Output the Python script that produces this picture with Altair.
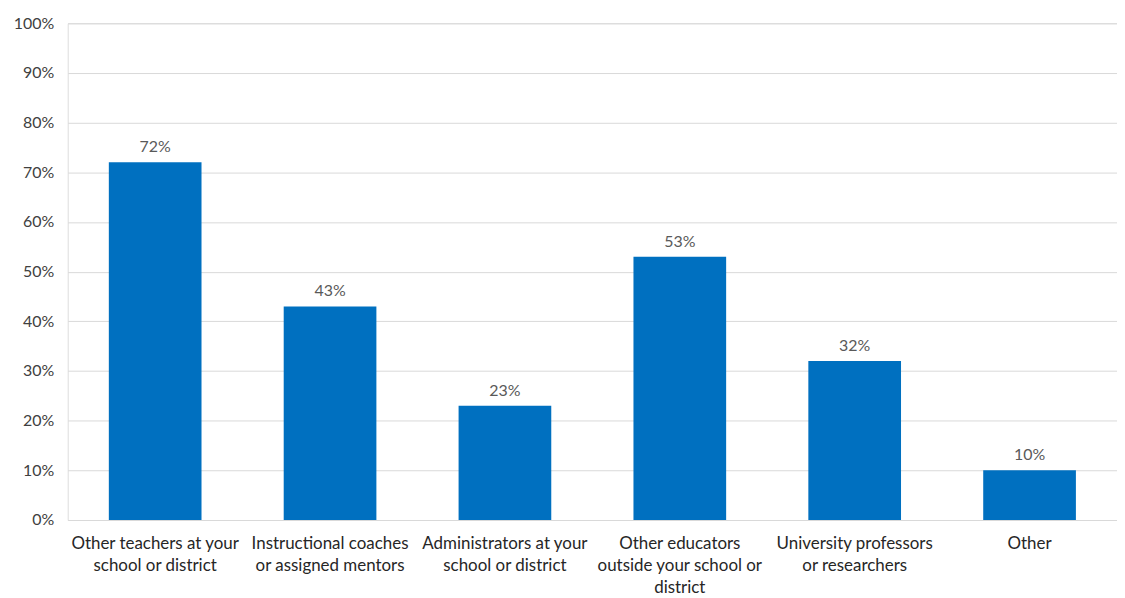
import altair as alt
import pandas as pd

categories = [
    "Other teachers at your|school or district",
    "Instructional coaches|or assigned mentors",
    "Administrators at your|school or district",
    "Other educators|outside your school or|district",
    "University professors|or researchers",
    "Other",
]
values = [0.72, 0.43, 0.23, 0.53, 0.32, 0.10]

df = pd.DataFrame({"category": categories, "value": values})

FONT = "Lato"

x = alt.X(
    "category:N",
    sort=categories,
    title=None,
    scale=alt.Scale(paddingInner=0.47, paddingOuter=0.235),
    axis=alt.Axis(
        labelExpr="split(datum.label, '|')",
        labelAngle=0,
        labelFontSize=17,
        labelLineHeight=22,
        labelColor="#262626",
        labelFont=FONT,
        labelPadding=16,
        ticks=False,
        domain=False,
        grid=False,
        labelLimit=240,
    ),
)
y = alt.Y(
    "value:Q",
    title=None,
    scale=alt.Scale(domain=[0, 1]),
    axis=alt.Axis(
        format=".0%",
        values=[i / 10 for i in range(11)],
        labelFontSize=16,
        labelColor="#404040",
        labelFont=FONT,
        labelPadding=14,
        ticks=False,
        domain=False,
        grid=True,
        gridColor="#d9d9d9",
        gridWidth=1,
    ),
)

bars = alt.Chart(df).mark_bar(color="#0070C0").encode(x=x, y=y)
labels = alt.Chart(df).mark_text(
    baseline="bottom", dy=-7, fontSize=16, color="#595959", font=FONT
).encode(
    x=alt.X("category:N", sort=categories),
    y="value:Q",
    text=alt.Text("value:Q", format=".0%"),
)

chart = (
    alt.layer(bars, labels)
    .properties(
        width=1054,
        height=499,
        autosize=alt.AutoSizeParams(type="none"),
        padding={"left": 60, "top": 14, "right": 0, "bottom": 77},
    )
    .configure_view(stroke=None)
    .configure(background="white")
)

chart.save("out.html", embed_options={"renderer": "svg", "actions": False})
